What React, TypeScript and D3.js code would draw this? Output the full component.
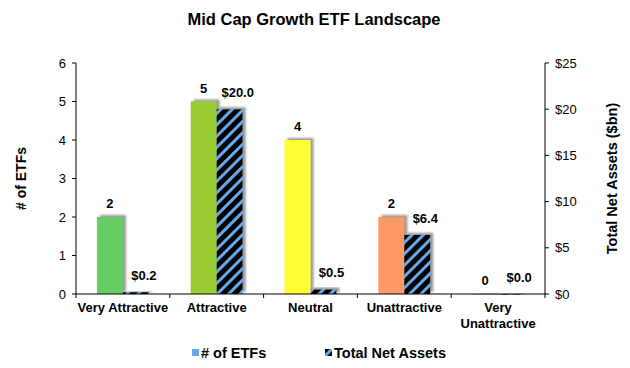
import * as d3 from "d3";

const categories = ["Very Attractive", "Attractive", "Neutral", "Unattractive", "Very Unattractive"];
const etfCounts = [2, 5, 4, 2, 0];
const netAssets = [0.2, 20.0, 0.5, 6.4, 0.0];
const countColors = ["#66cc66", "#99cc33", "#ffff33", "#ff9966", "#bfbfbf"];
const leftTicks = [0, 1, 2, 3, 4, 5, 6];
const rightTicks = [0, 5, 10, 15, 20, 25];

const W = 630;
const H = 368;
const M = { left: 76, right: 85, top: 63, bottom: 74 };
const FONT = "Liberation Sans, Arial, sans-serif";

export default function App() {
  const x = d3.scaleBand<string>().domain(categories).range([M.left, W - M.right]);
  const yL = d3.scaleLinear().domain([0, 6]).range([H - M.bottom, M.top]);
  const yR = d3.scaleLinear().domain([0, 25]).range([H - M.bottom, M.top]);
  const barW = 26;
  const base = yL(0);

  return (
    <svg width={W} height={H} style={{ position: "absolute", left: 0, top: 0, fontFamily: FONT }}>
      <defs>
        <pattern id="hatch" patternUnits="userSpaceOnUse" width={8} height={8} patternTransform="rotate(45)">
          <rect width={8} height={8} fill="#000" />
          <rect width={3} height={8} fill="#66aaee" />
        </pattern>
        <filter id="shadow" x="-30%" y="-30%" width="160%" height="160%">
          <feDropShadow dx={3} dy={-2} stdDeviation={1.2} floodColor="#808080" floodOpacity={0.8} />
        </filter>
      </defs>
      <rect width={W} height={H} fill="#fff" />

      <text x={314} y={25} textAnchor="middle" fontSize={16.5} fontWeight="bold">
        Mid Cap Growth ETF Landscape
      </text>

      {/* bars */}
      {categories.map((c, i) => {
        const cx = (x(c) ?? 0) + x.bandwidth() / 2;
        const yc = yL(etfCounts[i]);
        const ya = yR(netAssets[i]);
        return (
          <g key={c}>
            <rect
              x={cx - barW}
              y={yc}
              width={barW}
              height={Math.max(base - yc, 0.8)}
              fill={countColors[i]}
              filter="url(#shadow)"
            />
            <rect
              x={cx}
              y={ya}
              width={barW}
              height={Math.max(base - ya, 0.6)}
              fill="url(#hatch)"
              filter="url(#shadow)"
            />
            <text x={cx - barW / 2} y={yc - 9} textAnchor="middle" fontSize={13} fontWeight="bold">
              {etfCounts[i]}
            </text>
            <text x={cx + barW / 2 + 8} y={ya - 12} textAnchor="middle" fontSize={13} fontWeight="bold">
              {"$" + netAssets[i].toFixed(1)}
            </text>
          </g>
        );
      })}

      {/* left axis */}
      <line x1={M.left} x2={M.left} y1={M.top} y2={base} stroke="#000" />
      {leftTicks.map((t) => (
        <g key={t}>
          <line x1={M.left - 4} x2={M.left} y1={yL(t)} y2={yL(t)} stroke="#000" />
          <text x={M.left - 10} y={yL(t) + 4.5} textAnchor="end" fontSize={13}>
            {t}
          </text>
        </g>
      ))}
      <text
        transform={`translate(26,${(M.top + base) / 2}) rotate(-90)`}
        textAnchor="middle"
        fontSize={14}
        fontWeight="bold"
      >
        # of ETFs
      </text>

      {/* right axis */}
      <line x1={W - M.right} x2={W - M.right} y1={M.top} y2={base} stroke="#000" />
      {rightTicks.map((t) => (
        <g key={t}>
          <line x1={W - M.right} x2={W - M.right + 4} y1={yR(t)} y2={yR(t)} stroke="#000" />
          <text x={W - M.right + 10} y={yR(t) + 4.5} textAnchor="start" fontSize={13}>
            {"$" + t}
          </text>
        </g>
      ))}
      <text
        transform={`translate(617,${(M.top + base) / 2}) rotate(-90)`}
        textAnchor="middle"
        fontSize={14.5}
        fontWeight="bold"
      >
        Total Net Assets ($bn)
      </text>

      {/* bottom axis */}
      <line x1={M.left} x2={W - M.right} y1={base} y2={base} stroke="#000" />
      {categories.map((c) => (
        <line key={"t" + c} x1={x(c)} x2={x(c)} y1={base} y2={base + 4} stroke="#000" />
      ))}
      <line x1={W - M.right} x2={W - M.right} y1={base} y2={base + 4} stroke="#000" />
      {categories.map((c) => {
        const cx = (x(c) ?? 0) + x.bandwidth() / 2;
        const words = c === "Very Unattractive" ? ["Very", "Unattractive"] : [c];
        return (
          <text key={"l" + c} x={cx} y={base + 18} textAnchor="middle" fontSize={13} fontWeight="bold">
            {words.map((w, k) => (
              <tspan key={k} x={cx} dy={k === 0 ? 0 : 16}>
                {w}
              </tspan>
            ))}
          </text>
        );
      })}

      {/* legend */}
      <rect x={192} y={349} width={7} height={7} fill="#66aaee" />
      <text x={201} y={358} fontSize={14.5} fontWeight="bold">
        # of ETFs
      </text>
      <rect x={325} y={349} width={7} height={7} fill="url(#hatch)" />
      <text x={334} y={358} fontSize={14.5} fontWeight="bold">
        Total Net Assets
      </text>
    </svg>
  );
}
